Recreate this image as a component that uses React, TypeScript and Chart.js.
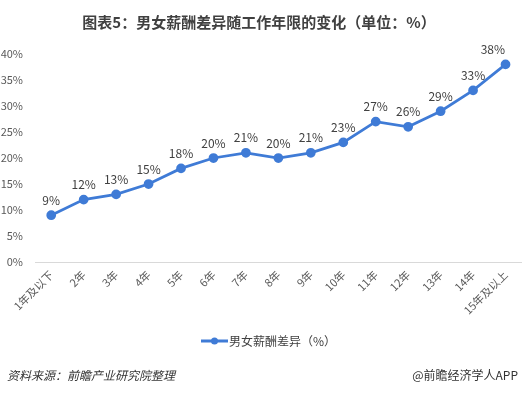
import React, { useEffect, useRef } from "react";
import { Chart, registerables } from "chart.js";

Chart.register(...registerables);

const categories = ["1年及以下", "2年", "3年", "4年", "5年", "6年", "7年", "8年", "9年", "10年", "11年", "12年", "13年", "14年", "15年及以上"];
const gapValues = [9, 12, 13, 15, 18, 20, 21, 20, 21, 23, 27, 26, 29, 33, 38];
const seriesName = "男女薪酬差异（%）";
const titleText = "图表5：男女薪酬差异随工作年限的变化（单位：%）";
const sourceText = "资料来源：前瞻产业研究院整理";
const creditText = "@前瞻经济学人APP";

const FONT = '"Noto Sans CJK SC", "Noto Sans", sans-serif';
const LINE_COLOR = "#3F7BD6";

const overlayPlugin = {
  id: "overlay",
  afterDatasetsDraw(chart: any) {
    const ctx = chart.ctx;
    const meta = chart.getDatasetMeta(0);
    ctx.save();
    ctx.font = `12px ${FONT}`;
    ctx.fillStyle = "#404040";
    ctx.textAlign = "center";
    ctx.textBaseline = "middle";
    meta.data.forEach((pt: any, i: number) => {
      const txt = gapValues[i] + "%";
      const w = ctx.measureText(txt).width;
      let x = pt.x;
      if (x + w / 2 > 505) x = 505 - w / 2;
      ctx.fillText(txt, x, pt.y - 15);
    });
    ctx.restore();
  },
  afterDraw(chart: any) {
    const ctx = chart.ctx;
    const W = chart.width;
    ctx.save();
    ctx.font = `bold 15px ${FONT}`;
    ctx.fillStyle = "#404040";
    ctx.textAlign = "center";
    ctx.textBaseline = "middle";
    ctx.fillText(titleText, 259, 22);
    const ly = 341;
    ctx.strokeStyle = LINE_COLOR;
    ctx.lineWidth = 3;
    ctx.beginPath();
    ctx.moveTo(201, ly);
    ctx.lineTo(228, ly);
    ctx.stroke();
    ctx.fillStyle = LINE_COLOR;
    ctx.beginPath();
    ctx.arc(214.5, ly, 3.5, 0, Math.PI * 2);
    ctx.fill();
    ctx.font = `12px ${FONT}`;
    ctx.fillStyle = "#404040";
    ctx.textAlign = "left";
    ctx.fillText(seriesName, 229, ly);
    ctx.font = `italic 12px ${FONT}`;
    ctx.fillStyle = "#333333";
    ctx.textAlign = "left";
    ctx.fillText(sourceText, 7, 375);
    ctx.font = `12px ${FONT}`;
    ctx.textAlign = "right";
    ctx.fillText(creditText, W - 10, 375);
    ctx.restore();
  },
};

export default function App() {
  const ref = useRef<HTMLCanvasElement>(null);
  useEffect(() => {
    if (!ref.current) return;
    const chart = new Chart(ref.current, {
      type: "line",
      data: {
        labels: categories,
        datasets: [
          {
            label: seriesName,
            data: gapValues,
            borderColor: LINE_COLOR,
            backgroundColor: LINE_COLOR,
            borderWidth: 2.75,
            pointRadius: 3.5,
            pointHoverRadius: 3.5,
            pointBackgroundColor: LINE_COLOR,
            pointBorderColor: LINE_COLOR,
            tension: 0,
          },
        ],
      },
      plugins: [overlayPlugin],
      options: {
        responsive: false,
        animation: false,
        layout: { padding: { left: 0, right: 6, top: 54, bottom: 0 } },
        plugins: {
          legend: { display: false },
          title: { display: false },
          tooltip: { enabled: false },
        },
        scales: {
          x: {
            offset: true,
            grid: { display: false, drawTicks: false },
            border: { display: true, color: "#d9d9d9", width: 1 },
            ticks: {
              minRotation: 45,
              maxRotation: 45,
              autoSkip: false,
              padding: 6,
              color: "#595959",
              font: { size: 11, family: FONT },
            },
            afterFit(scale: any) {
              scale.height = 131;
            },
          },
          y: {
            min: 0,
            max: 40,
            grid: { display: false, drawTicks: false },
            border: { display: false },
            ticks: {
              stepSize: 5,
              padding: 12,
              color: "#595959",
              font: { size: 11, family: FONT },
              callback: (v: any) => v + "%",
            },
            afterFit(scale: any) {
              scale.width = 35;
            },
          },
        },
      },
    } as any);
    return () => chart.destroy();
  }, []);
  return (
    <div style={{ position: "fixed", left: 0, top: 0, width: 528, height: 393, background: "#fff" }}>
      <canvas ref={ref} width={528} height={393} style={{ display: "block" }} />
    </div>
  );
}
